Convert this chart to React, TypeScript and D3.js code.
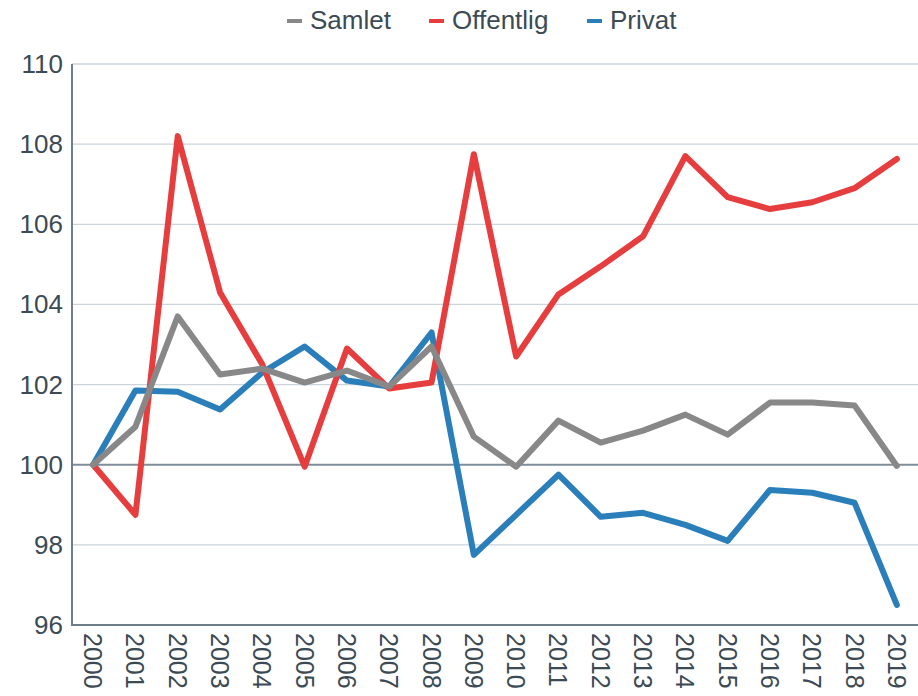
import * as d3 from "d3";

const years = [
  "2000", "2001", "2002", "2003", "2004", "2005", "2006", "2007", "2008", "2009",
  "2010", "2011", "2012", "2013", "2014", "2015", "2016", "2017", "2018", "2019",
];
const samlet = [
  100, 100.95, 103.7, 102.25, 102.4, 102.05, 102.35, 101.95, 102.95, 100.7,
  99.95, 101.1, 100.55, 100.85, 101.25, 100.75, 101.55, 101.55, 101.48, 99.97,
];
const offentlig = [
  100, 98.75, 108.2, 104.3, 102.5, 99.95, 102.9, 101.9, 102.05, 107.75,
  102.7, 104.25, 104.95, 105.7, 107.7, 106.68, 106.38, 106.55, 106.9, 107.63,
];
const privat = [
  100, 101.85, 101.82, 101.38, 102.3, 102.95, 102.1, 101.95, 103.3, 97.75,
  98.75, 99.75, 98.7, 98.8, 98.5, 98.1, 99.37, 99.3, 99.05, 96.5,
];
const yTicks = [96, 98, 100, 102, 104, 106, 108, 110];

const seriesList = [
  { name: "Samlet", values: samlet, color: "#888888" },
  { name: "Offentlig", values: offentlig, color: "#e63e3f" },
  { name: "Privat", values: privat, color: "#2a7fba" },
];

const W = 918;
const H = 696;
const left = 72;
const right = 918;
const top = 64;
const bottom = 625;
const textColor = "#3c4a54";
const font = "'Liberation Sans', Arial, sans-serif";

export default function App() {
  const x = d3.scalePoint().domain(years).range([left, right]).padding(0.5);
  const y = d3.scaleLinear().domain([96, 110]).range([bottom, top]);

  const line = d3
    .line<number>()
    .x((_, i) => x(years[i])!)
    .y((d) => y(d));

  // legend positions (text start)
  const legend = [
    { name: "Samlet", color: "#888888", tx: 310 },
    { name: "Offentlig", color: "#e63e3f", tx: 452 },
    { name: "Privat", color: "#2a7fba", tx: 610 },
  ];

  return (
    <svg
      width={W}
      height={H}
      style={{ position: "absolute", left: 0, top: 0, background: "#fff" }}
      fontFamily={font}
    >
      {/* gridlines */}
      {yTicks.map((t) => (
        <line
          key={t}
          x1={left}
          x2={right}
          y1={y(t)}
          y2={y(t)}
          stroke={t === 100 ? "#7d8e9a" : "#cbd4db"}
          strokeWidth={t === 100 ? 2 : 1.3}
        />
      ))}
      {/* axes */}
      <line x1={left} x2={left} y1={top} y2={bottom + 1} stroke="#6e7f8b" strokeWidth={2} />
      <line x1={left - 1} x2={right} y1={bottom} y2={bottom} stroke="#6e7f8b" strokeWidth={2} />

      {yTicks.map((t) => (
        <text
          key={t}
          x={63}
          y={y(t)}
          textAnchor="end"
          dominantBaseline="central"
          fontSize={26}
          fill={textColor}
        >
          {t}
        </text>
      ))}

      {years.map((yr) => (
        <text
          key={yr}
          transform={`translate(${x(yr)},${633}) rotate(90)`}
          dominantBaseline="central"
          fontSize={25}
          fill={textColor}
        >
          {yr}
        </text>
      ))}

      {/* lines: draw Privat first, Samlet last */}
      {[...seriesList].reverse().map((s) => (
        <path
          key={s.name}
          d={line(s.values)!}
          fill="none"
          stroke={s.color}
          strokeWidth={6}
          strokeLinejoin="round"
          strokeLinecap="round"
        />
      ))}

      {legend.map((l) => (
        <g key={l.name}>
          <line x1={l.tx - 23} x2={l.tx - 8} y1={21} y2={21} stroke={l.color} strokeWidth={4} />
          <text x={l.tx} y={20} dominantBaseline="central" fontSize={26} fill={textColor}>
            {l.name}
          </text>
        </g>
      ))}
    </svg>
  );
}
